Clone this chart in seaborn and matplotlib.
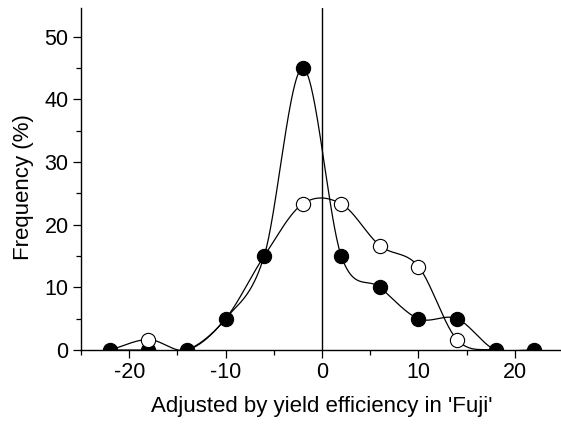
import numpy as np
import pandas as pd
import matplotlib
matplotlib.use("Agg")
import matplotlib.pyplot as plt
from matplotlib.ticker import MultipleLocator
import seaborn as sns

# ---- data ----
x_vals = [-22, -18, -14, -10, -6, -2, 2, 6, 10, 14, 18, 22]
filled_y = [0, 0, 0, 5, 15, 45, 15, 10, 5, 5, 0, 0]
open_y = [0, 1.67, 0, 5, 15, 23.33, 23.33, 16.67, 13.33, 1.67, 0, 0]
open_marker_idx = [1, 5, 6, 7, 8, 9]
x_ticks = [-20, -10, 0, 10, 20]
y_ticks = [0, 10, 20, 30, 40, 50]
x_label = "Adjusted by yield efficiency in 'Fuji'"
y_label = "Frequency (%)"


def catmull_rom(x, y, per_seg=60):
    """Cardinal (Catmull-Rom) Hermite spline through the points."""
    x = np.asarray(x, float)
    y = np.asarray(y, float)
    n = len(x)
    m = np.zeros(n)
    for i in range(n):
        if i == 0:
            m[i] = (y[1] - y[0]) / (x[1] - x[0])
        elif i == n - 1:
            m[i] = (y[-1] - y[-2]) / (x[-1] - x[-2])
        else:
            m[i] = (y[i + 1] - y[i - 1]) / (x[i + 1] - x[i - 1])
    xs_all, ys_all = [], []
    for i in range(n - 1):
        h = x[i + 1] - x[i]
        t = np.linspace(0, 1, per_seg, endpoint=(i == n - 2))
        h00 = 2 * t ** 3 - 3 * t ** 2 + 1
        h10 = t ** 3 - 2 * t ** 2 + t
        h01 = -2 * t ** 3 + 3 * t ** 2
        h11 = t ** 3 - t ** 2
        xs_all.append(x[i] + t * h)
        ys_all.append(h00 * y[i] + h10 * h * m[i] + h01 * y[i + 1] + h11 * h * m[i + 1])
    return np.concatenate(xs_all), np.concatenate(ys_all)


sns.set_theme(style="ticks")
plt.rcParams["font.family"] = ["Liberation Sans", "DejaVu Sans"]
plt.rcParams["axes.unicode_minus"] = False

fig = plt.figure(figsize=(5.61, 4.26), dpi=100)
ax = fig.add_axes([81 / 561, 76 / 426, 482 / 561, 342 / 426])

fx, fy = catmull_rom(x_vals, filled_y)
ox, oy = catmull_rom(x_vals, open_y)
sdf_f = pd.DataFrame({"x": fx, "y": fy})
sdf_o = pd.DataFrame({"x": ox, "y": oy})

ax.axvline(0, color="black", lw=1.0, zorder=1)
sns.lineplot(data=sdf_f, x="x", y="y", ax=ax, color="black", lw=0.9, sort=False,
             estimator=None, zorder=2)
sns.lineplot(data=sdf_o, x="x", y="y", ax=ax, color="black", lw=0.9, sort=False,
             estimator=None, zorder=2)

pf = pd.DataFrame({"x": x_vals, "y": filled_y})
po = pd.DataFrame({"x": [x_vals[i] for i in open_marker_idx],
                   "y": [open_y[i] for i in open_marker_idx]})
sns.scatterplot(data=pf, x="x", y="y", ax=ax, color="black", edgecolor="black",
                s=105, linewidth=0.8, zorder=3)
sns.scatterplot(data=po, x="x", y="y", ax=ax, color="white", edgecolor="black",
                s=105, linewidth=0.8, zorder=4)
for coll in ax.collections:
    coll.set_clip_on(True)
    coll.set_clip_path(ax.patch)

ax.set_xlim(-25, 25)
ax.set_ylim(0, 54.6)
ax.set_xticks(x_ticks)
ax.set_yticks(y_ticks)
ax.xaxis.set_minor_locator(MultipleLocator(5))
ax.yaxis.set_minor_locator(MultipleLocator(5))
ax.tick_params(which="major", direction="out", length=6, width=0.9, labelsize=15.5,
               colors="black", pad=3)
ax.tick_params(which="minor", direction="out", length=3.5, width=0.9, colors="black")
for s in ["top", "right"]:
    ax.spines[s].set_visible(False)
for s in ["left", "bottom"]:
    ax.spines[s].set_linewidth(1.0)
    ax.spines[s].set_color("black")
    ax.spines[s].set_zorder(5)
ax.set_xlabel(x_label, fontsize=16, color="black")
ax.set_ylabel(y_label, fontsize=16, color="black")
ax.xaxis.set_label_coords(0.5, -0.135)
ax.yaxis.set_label_coords(-0.098, 0.475)

fig.savefig("out.png", dpi=100)
